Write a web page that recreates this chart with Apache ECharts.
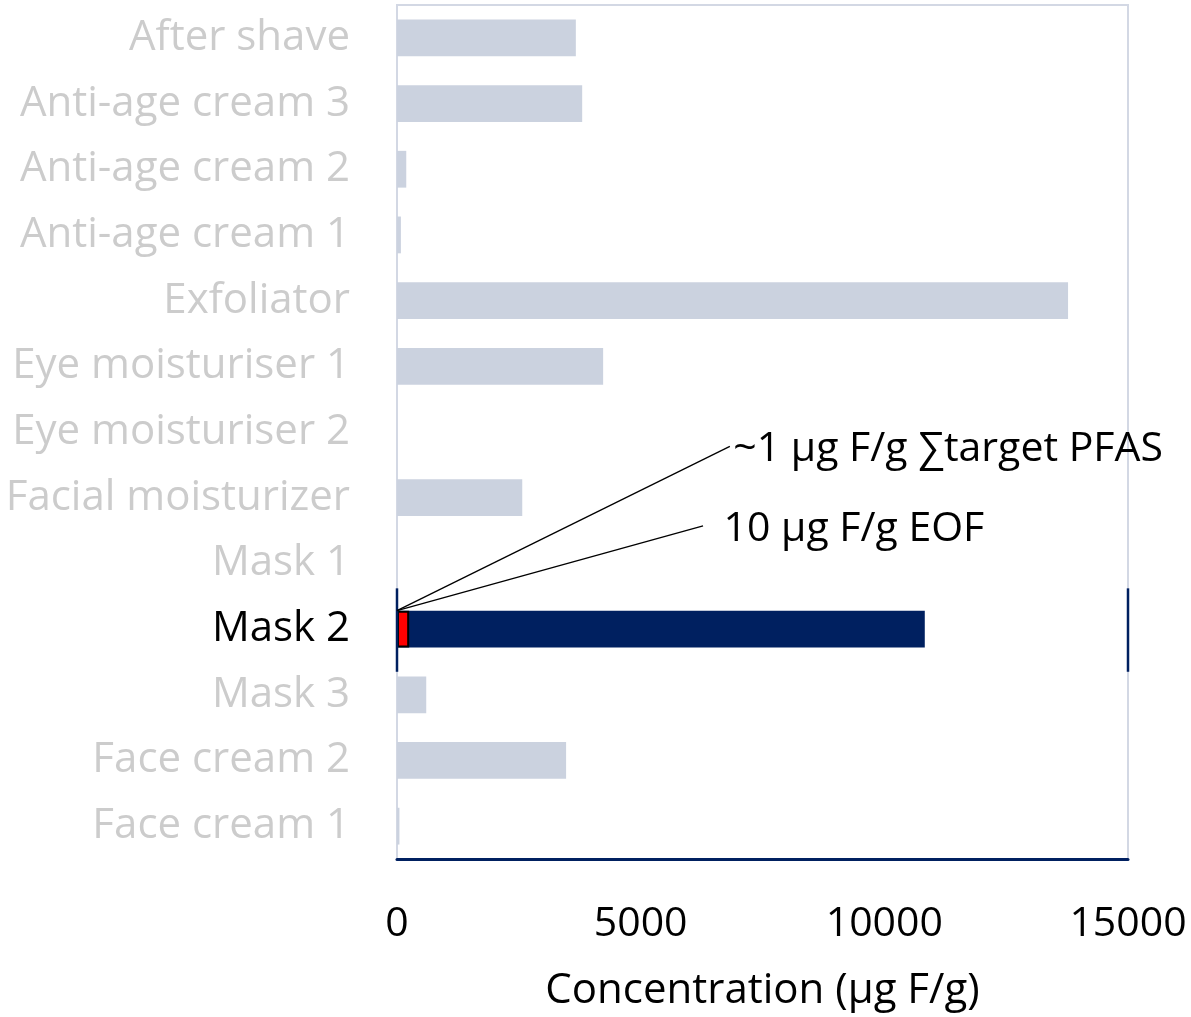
<!DOCTYPE html>
<html>
<head>
<meta charset="utf-8">
<script src="https://cdn.jsdelivr.net/npm/echarts@6/dist/echarts.min.js"></script>
<style>
  html, body { margin: 0; padding: 0; background: #fff; }
  #chart { width: 1191px; height: 1017px; }
</style>
</head>
<body>
<div id="chart"></div>
<script>
// Products, top to bottom
const categories = [
  'After shave', 'Anti-age cream 3', 'Anti-age cream 2', 'Anti-age cream 1',
  'Exfoliator', 'Eye moisturiser 1', 'Eye moisturiser 2', 'Facial moisturizer',
  'Mask 1', 'Mask 2', 'Mask 3', 'Face cream 2', 'Face cream 1'
];
// Concentration (µg F/g) per product
const concentration = [3670, 3800, 190, 80, 13770, 4230, 0, 2570, 0, 10830, 600, 3470, 50];
// Highlighted product and its target-PFAS share
const highlight = 'Mask 2';
const targetPfas = 250;
const xTicks = [0, 5000, 10000, 15000];
const noteTexts = ['~1 µg F/g ∑target PFAS', '10 µg F/g EOF'];

const FONT = '"Open Sans"';
const GRAY = '#cbd2df';
const NAVY = '#002060';

const grayData = categories.map((c, i) => c === highlight ? '-' : concentration[i]);
const navyData = categories.map((c, i) => c === highlight ? concentration[i] : '-');
const redData = categories.map(c => c === highlight ? targetPfas : '-');

const chart = echarts.init(document.getElementById('chart'));
chart.setOption({
  animation: false,
  grid: {
    left: 397, right: 63, top: 5, bottom: 150,
    show: true, borderColor: '#d3d8e4', borderWidth: 2, backgroundColor: '#fff'
  },
  xAxis: {
    type: 'value', min: xTicks[0], max: xTicks[xTicks.length - 1], interval: 5000,
    splitLine: { show: false },
    axisLine: { show: true, lineStyle: { color: NAVY, width: 3 } },
    axisTick: { show: false },
    axisLabel: {
      color: '#000', fontFamily: FONT, fontSize: 41, margin: 45,
      formatter: v => String(v)
    },
    name: 'Concentration (µg F/g)', nameLocation: 'middle', nameGap: 111,
    nameTextStyle: { color: '#000', fontFamily: FONT, fontSize: 42 }
  },
  yAxis: {
    type: 'category', data: categories, inverse: true,
    axisLine: { show: false }, axisTick: { show: false }, splitLine: { show: false },
    axisLabel: {
      fontFamily: FONT, fontSize: 42, margin: 47, padding: [4, 0, 0, 0],
      color: (v) => v === highlight ? '#000' : '#cccccc'
    }
  },
  series: [
    { type: 'bar', data: grayData, barWidth: '56%', barGap: '-100%',
      itemStyle: { color: GRAY } },
    { type: 'bar', data: navyData, barWidth: '56%', barGap: '-100%',
      itemStyle: { color: NAVY } },
    { type: 'bar', data: redData, barWidth: '56%', barGap: '-100%', z: 5,
      itemStyle: { color: '#ff0000', borderColor: '#000', borderWidth: 2 } }
  ]
});

// Leader lines, notes and the highlight brackets, placed from axis positions
function drawNotes() {
  const hi = categories.indexOf(highlight);
  const toX = v => chart.convertToPixel({ xAxisIndex: 0 }, v);
  const toY = i => chart.convertToPixel({ yAxisIndex: 0 }, i);
  const band = toY(1) - toY(0);
  const x0 = toX(0);
  const xEnd = toX(xTicks[xTicks.length - 1]);
  const yc = toY(hi);
  const barTop = yc - band * 0.28;
  const ends = [
    { x: toX(6830), y: toY(6) + band * 0.22 },
    { x: toX(6280), y: toY(7) + band * 0.43 }
  ];
  const textX = [toX(6900), toX(6700)];
  const elements = [];
  ends.forEach((e, k) => {
    elements.push({
      type: 'line', z: 10,
      shape: { x1: x0, y1: barTop, x2: e.x, y2: e.y },
      style: { stroke: '#000', lineWidth: 1.3 }
    });
    elements.push({
      type: 'text', z: 10, x: textX[k], y: e.y + 3,
      style: {
        text: noteTexts[k], fill: '#000', font: '41px ' + FONT,
        textVerticalAlign: 'middle', textAlign: 'left'
      }
    });
  });
  [x0, xEnd].forEach(x => {
    elements.push({
      type: 'line', z: 9,
      shape: { x1: x, y1: yc - band * 0.62, x2: x, y2: yc + band * 0.65 },
      style: { stroke: NAVY, lineWidth: 2.5 }
    });
  });
  chart.setOption({ graphic: elements });
}
drawNotes();
</script>
</body>
</html>
